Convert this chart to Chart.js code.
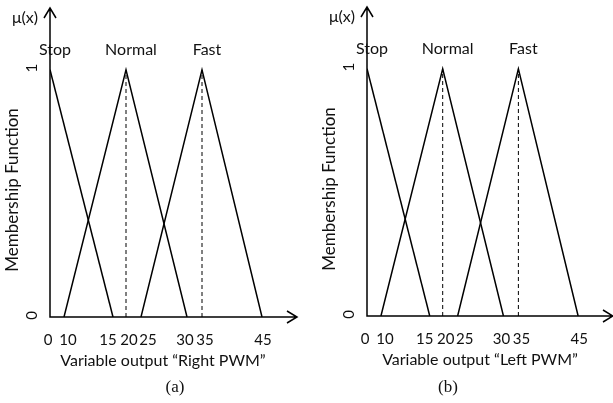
<!DOCTYPE html>
<html>
<head>
<meta charset="utf-8">
<title>Membership functions: Right / Left PWM</title>
<script src="https://cdn.jsdelivr.net/npm/chart.js@4.4.0/dist/chart.umd.min.js"></script>
<style>
  body { margin: 0; background: #fff; }
  #wrap { position: relative; width: 613px; height: 403px; overflow: hidden; }
  canvas { position: absolute; top: 0; }
  .cap { position: absolute; top: 377px; font: 17px "Liberation Serif", serif; color: #111; transform: translateX(-50%); }
</style>
</head>
<body>
<div id="wrap">
  <canvas id="chartA" width="306" height="403" style="left:0"></canvas>
  <canvas id="chartB" width="307" height="403" style="left:306px"></canvas>
  <span class="cap" style="left:175px">(a)</span>
  <span class="cap" style="left:448px">(b)</span>
</div>
<script>
// breakpoints of the three triangular sets
const xTicks = [0, 10, 15, 20, 25, 30, 35, 45];
const yTicks = [0, 1];
const setNames = ['Stop', 'Normal', 'Fast'];
const stopX = [0, 15],        stopY = [1, 0];
const normalX = [10, 20, 30], normalY = [0, 1, 0];
const fastX = [25, 35, 45],   fastY = [0, 1, 0];
const peakX = [20, 35];

// the drawn axis is not to scale: px from the origin for each tick value
const tickPlaces = [0, 14, 63, 76, 91, 137, 152, 212];
const labelNudge = [-2, 4, -5, 3, 7, -2, 3, 1];
const axisLength = 247;

const FONT = 'Lato, "Open Sans", sans-serif';
const INK = '#111';

class WarpScale extends Chart.LinearScale {
  buildTicks() {
    return xTicks.map(v => ({value: v}));
  }
  getPixelForValue(v) {
    let i = 1;
    while (i < xTicks.length - 1 && v > xTicks[i]) i++;
    const t = (v - xTicks[i - 1]) / (xTicks[i] - xTicks[i - 1]);
    const place = tickPlaces[i - 1] + t * (tickPlaces[i] - tickPlaces[i - 1]);
    return this.getPixelForDecimal(place / axisLength);
  }
  getPixelForTick(i) {
    return this.getPixelForValue(this.ticks[i].value) + labelNudge[i];
  }
}
WarpScale.id = 'warp';
WarpScale.defaults = Chart.LinearScale.defaults;
Chart.register(WarpScale);

const decor = {
  id: 'decor',
  afterDatasetsDraw(chart, args, o) {
    const {ctx, chartArea: a} = chart;
    ctx.save();
    ctx.strokeStyle = '#000';
    ctx.lineWidth = 1.5;
    ctx.beginPath();
    ctx.moveTo(a.left, a.top);
    ctx.lineTo(a.left, a.bottom);
    ctx.lineTo(a.right, a.bottom);
    ctx.moveTo(a.left - 6, a.top + 10);
    ctx.lineTo(a.left, a.top);
    ctx.lineTo(a.left + 6, a.top + 10);
    ctx.moveTo(a.right - 10, a.bottom - 6);
    ctx.lineTo(a.right, a.bottom);
    ctx.lineTo(a.right - 10, a.bottom + 6);
    ctx.stroke();

    ctx.fillStyle = INK;
    ctx.font = '16px ' + FONT;
    ctx.textBaseline = 'middle';
    ctx.textAlign = 'right';
    ctx.fillText('\u03bc(x)', a.left - 12, a.top + 10);

    ctx.textAlign = 'center';
    setNames.forEach((name, i) => {
      const pts = chart.getDatasetMeta(i).data;
      const top = pts.reduce((p, q) => (q.y < p.y ? q : p));
      ctx.fillText(name, top.x + 5, top.y - 20);
    });

    ctx.fillText(o.xTitle, a.left + 113, a.bottom + 44);
    ctx.font = '17px ' + FONT;
    ctx.translate(a.left - 37, a.bottom - 127);
    ctx.rotate(-Math.PI / 2);
    ctx.fillText('Membership Function', 0, 0);
    ctx.restore();
  }
};

const pts = (xs, ys) => xs.map((x, i) => ({x, y: ys[i]}));

function makeChart(id, xTitle, box) {
  const solid = {borderColor: '#000', borderWidth: 1.5, pointRadius: 0, fill: false};
  const dashed = {borderColor: '#000', borderWidth: 1, borderDash: [4, 3], pointRadius: 0, fill: false};
  return new Chart(document.getElementById(id), {
    type: 'line',
    data: {
      datasets: [
        {label: setNames[0], data: pts(stopX, stopY), ...solid},
        {label: setNames[1], data: pts(normalX, normalY), ...solid},
        {label: setNames[2], data: pts(fastX, fastY), ...solid},
        ...peakX.map(x => ({label: 'peak ' + x, data: [{x, y: 0}, {x, y: 1}], ...dashed}))
      ]
    },
    options: {
      responsive: false,
      animation: false,
      layout: {padding: {top: box.top, right: box.right, left: 0, bottom: 0}},
      plugins: {legend: {display: false}, tooltip: {enabled: false}, decor: {xTitle}},
      scales: {
        x: {
          type: 'warp',
          min: 0, max: 45,
          grid: {display: false, drawTicks: false},
          border: {display: false},
          ticks: {
            autoSkip: false, maxRotation: 0, padding: 14,
            color: INK, font: {family: FONT, size: 15},
            callback: v => String(v)
          },
          afterFit: s => { s.height = box.xh; s.paddingLeft = 0; s.paddingRight = 0; }
        },
        y: {
          min: 0, max: 1.25,
          afterBuildTicks: s => { s.ticks = yTicks.map(v => ({value: v})); },
          grid: {display: false, drawTicks: false},
          border: {display: false},
          ticks: {
            minRotation: 90, maxRotation: 90, padding: 18, labelOffset: -6,
            color: INK, font: {family: FONT, size: 15}
          },
          afterFit: s => { s.width = box.left; s.paddingTop = 0; s.paddingBottom = 0; }
        }
      }
    },
    plugins: [decor]
  });
}

makeChart('chartA', 'Variable output \u201cRight PWM\u201d', {left: 50, top: 8, right: 9, xh: 86});
makeChart('chartB', 'Variable output \u201cLeft PWM\u201d', {left: 61, top: 7, right: 0, xh: 87});
</script>
</body>
</html>
